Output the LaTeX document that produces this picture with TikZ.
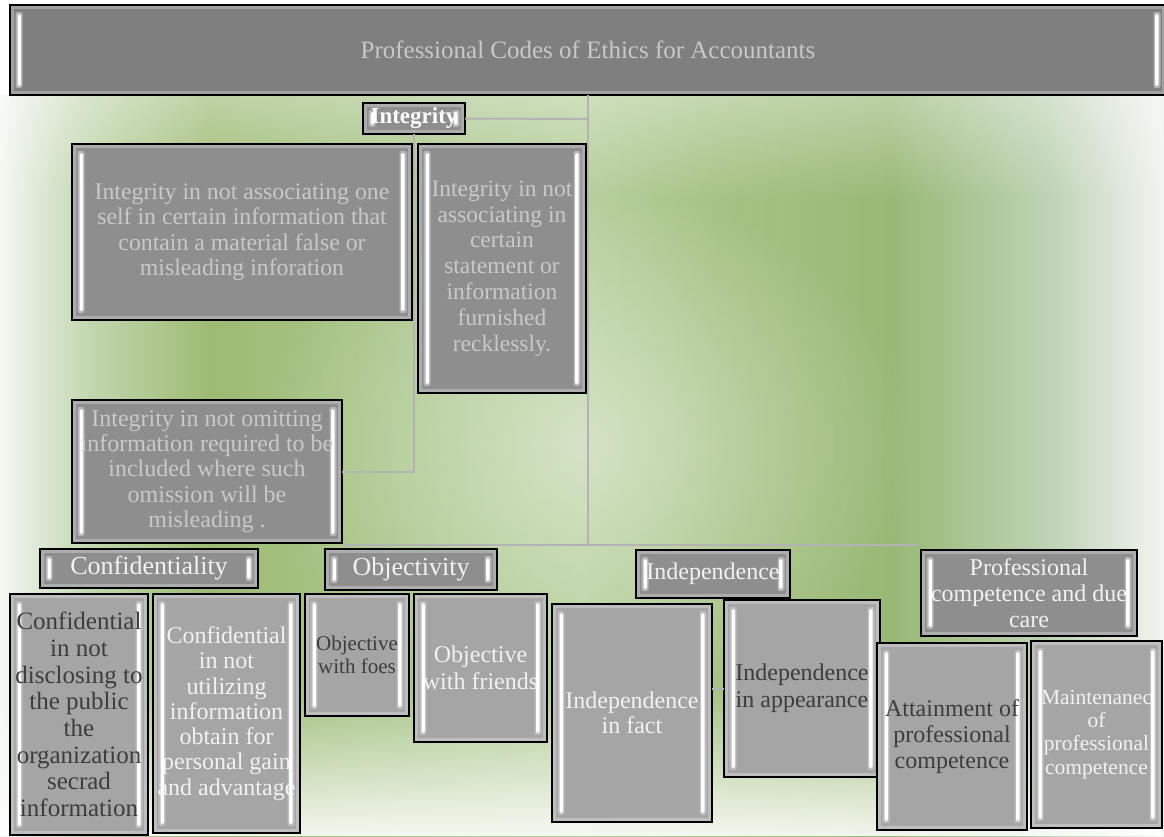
\documentclass[tikz,border=0pt]{standalone}
\usepackage{fontspec}
\setmainfont{Liberation Serif}
\usetikzlibrary{fadings}
\definecolor{bgA}{HTML}{F5F8F3}
\definecolor{bgB}{HTML}{DFE9D8}
\definecolor{bgC}{HTML}{C0D6AC}
\definecolor{bgD}{HTML}{9EBB74}
\definecolor{bgE}{HTML}{A9C589}
\definecolor{bgF}{HTML}{B6CF9C}
\definecolor{bgG}{HTML}{A6C284}
\definecolor{bgH}{HTML}{99B875}
\definecolor{bgI}{HTML}{BDD3B3}
\definecolor{bgJ}{HTML}{D8E2D4}
\definecolor{bgK}{HTML}{F2F5F0}
\definecolor{titleGrey}{HTML}{7F7F7F}
\definecolor{midGrey}{HTML}{8E8E8E}
\definecolor{childGrey}{HTML}{A5A5A5}
\definecolor{tLight}{HTML}{C9C9C9}
\definecolor{tWhite}{HTML}{F2F2F2}
\definecolor{tDark}{HTML}{3D3D3D}
\definecolor{lineGrey}{HTML}{B3B3B3}
\definecolor{haloGrey}{HTML}{C8C8C8}
\pgfdeclarehorizontalshading{bgshade}{100bp}{color(0bp)=(bgA); color(25bp)=(bgA); color(26.5bp)=(bgB); color(29bp)=(bgC); color(34bp)=(bgD); color(41.5bp)=(bgE); color(50bp)=(bgF); color(56bp)=(bgG); color(63.25bp)=(bgH); color(70bp)=(bgI); color(72.5bp)=(bgJ); color(75bp)=(bgK); color(100bp)=(bgK)}
\tikzfading[name=fadeUp, top color=transparent!100, bottom color=transparent!0]
\tikzfading[name=fadeDown, top color=transparent!0, bottom color=transparent!100]
\tikzfading[name=spotFade, inner color=transparent!0, outer color=transparent!100]
\newcommand{\fsz}[2]{\fontsize{#1}{#2}\selectfont}
\newcommand{\mkbox}[6]{\node[gbox, fill=#6, minimum width={#4pt-#2pt}, minimum height={#5pt-#3pt}] (#1) at (#2,#3) {};}
\newcommand{\mktext}[4]{\node[txt, text=#2, font=#3] (#1t) at (#1.center) {#4};}
\begin{document}
\begin{tikzpicture}[x=1pt,y=-1pt,
  hlbar/.style={white, rounded corners=1.5pt},
  halo/.style={haloGrey, opacity=0.7, rounded corners=2pt},
  gbox/.style={draw=black, line width=1.4pt, inner sep=0pt, outer sep=0pt, anchor=north west, rectangle,
    path picture={
      \draw[line width=3pt, white, opacity=0.28] ([xshift=2.2pt,yshift=-2.2pt]path picture bounding box.north west) rectangle ([xshift=-2.2pt,yshift=2.2pt]path picture bounding box.south east);
      \fill[halo] ([xshift=5.5pt,yshift=-7pt]path picture bounding box.north west) rectangle ([xshift=12.5pt,yshift=7pt]path picture bounding box.south west);
      \fill[halo] ([xshift=-12.5pt,yshift=-7pt]path picture bounding box.north east) rectangle ([xshift=-5.5pt,yshift=7pt]path picture bounding box.south east);
      \fill[hlbar] ([xshift=7.5pt,yshift=-9pt]path picture bounding box.north west) rectangle ([xshift=11pt,yshift=9pt]path picture bounding box.south west);
      \fill[hlbar] ([xshift=-11pt,yshift=-9pt]path picture bounding box.north east) rectangle ([xshift=-7.5pt,yshift=9pt]path picture bounding box.south east);
    }},
  txt/.style={align=center, inner sep=0pt},
  conn/.style={draw=lineGrey, line width=2pt}
]
\useasboundingbox (0,0) rectangle (1164,836);
\fill[white] (0,0) rectangle (1164,836);
\shade[shading=bgshade] (0,95) rectangle (1164,836);
\fill[white, fill opacity=0.42, path fading=spotFade] (585,445) ellipse [x radius=330pt, y radius=260pt];
\fill[white, fill opacity=0.35, path fading=fadeDown] (0,95) rectangle (1164,200);
\fill[white, fill opacity=0.88, path fading=fadeUp] (0,690) rectangle (1164,836);

\mkbox{title}{10}{5}{1166}{95}{titleGrey}

% trunk connectors
\coordinate (jb) at (588,545);
\coordinate (hL) at (342,545);
\coordinate (hR) at (917,545);
\coordinate (iv) at (588,119);
\draw[conn] (title.south) -- (jb);
\draw[conn] (hL) -- (hR);

\mkbox{integ}{363}{103}{465}{134}{midGrey}
\draw[conn] (integ.east) -- (iv);
\mkbox{ia}{72}{144}{412}{320}{midGrey}
\mkbox{ib}{418}{144}{586}{393}{midGrey}
\mkbox{ic}{72}{400}{342}{543}{midGrey}
\draw[conn] (integ.south) |- (ic.east);
\mkbox{conf}{40}{549}{258}{588}{midGrey}
\mkbox{obj}{325}{549}{497}{590}{midGrey}
\mkbox{ind}{636}{550}{790}{598}{midGrey}
\mkbox{prof}{921}{550}{1137}{636}{midGrey}

\mkbox{ca}{10}{594}{148}{835}{childGrey}
\mkbox{cb}{153}{594}{300}{833}{childGrey}
\mkbox{oa}{305}{594}{409}{716}{childGrey}
\mkbox{ob}{414}{594}{547}{742}{childGrey}
\mkbox{da}{552}{604}{712}{822}{childGrey}
\mkbox{db}{724}{600}{880}{777}{childGrey}
\mkbox{pa}{877}{643}{1027}{830}{childGrey}
\mkbox{pb}{1031}{641}{1162}{828}{childGrey}
\draw[conn] (da.east |- db.west) -- (db.west);

% texts
\mktext{title}{tLight}{\fsz{25}{30}}{Professional Codes of Ethics for Accountants}
\mktext{integ}{white}{\fsz{23}{26}\bfseries}{Integrity}
\mktext{ia}{tLight}{\fsz{23.8}{25.5}}{Integrity in not associating one\\ self in certain information that\\ contain a material false or\\ misleading inforation}
\mktext{ib}{tLight}{\fsz{23.5}{25.8}}{Integrity in not\\ associating in\\ certain\\ statement or\\ information\\ furnished\\ recklessly.}
\mktext{ic}{tLight}{\fsz{24}{25.2}}{Integrity in not omitting\\ information required to be\\ included where such\\ omission will be\\ misleading .}
\mktext{conf}{tWhite}{\fsz{26}{30}}{Confidentiality}
\mktext{obj}{tWhite}{\fsz{26}{30}}{Objectivity}
\mktext{ind}{tWhite}{\fsz{24}{28}}{Independence}
\mktext{prof}{tWhite}{\fsz{24}{25.8}}{Professional\\ competence and due\\ care}
\mktext{ca}{tDark}{\fsz{25}{26.7}}{Confidential\\ in not\\ disclosing to\\ the public\\ the\\ organization\\ secrad\\ information}
\mktext{cb}{tWhite}{\fsz{24}{25.3}}{Confidential\\ in not\\ utilizing\\ information\\ obtain for\\ personal gain\\ and advantage}
\mktext{oa}{tDark}{\fsz{21}{23.3}}{Objective\\ with foes}
\mktext{ob}{tWhite}{\fsz{24}{26.7}}{Objective\\ with friends}
\mktext{da}{tWhite}{\fsz{24}{25}}{Independence\\ in fact}
\mktext{db}{tDark}{\fsz{24}{26.7}}{Independence\\ in appearance}
\mktext{pa}{tDark}{\fsz{24}{25.8}}{Attainment of\\ professional\\ competence}
\mktext{pb}{tWhite}{\fsz{21.5}{23.3}}{Maintenanec\\ of\\ professional\\ competence}
\end{tikzpicture}
\end{document}
